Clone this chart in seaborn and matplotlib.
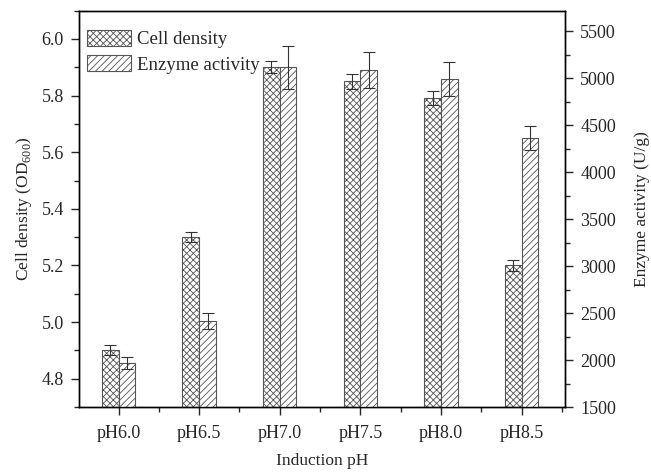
import pandas as pd
import seaborn as sns
import matplotlib.pyplot as plt
import matplotlib.patches as mpatches
from matplotlib.ticker import MultipleLocator, FixedLocator

# values
ph_labels = ["pH6.0", "pH6.5", "pH7.0", "pH7.5", "pH8.0", "pH8.5"]
cell_density = [4.90, 5.30, 5.90, 5.85, 5.79, 5.20]
cell_err = [0.018, 0.018, 0.022, 0.026, 0.025, 0.018]
enzyme_activity = [1970, 2420, 5115, 5085, 4990, 4365]
enzyme_err = [65, 85, 225, 190, 180, 130]

series = ["Cell density", "Enzyme activity"]
hatches = ["xxxxx", "/////"]

sns.set_style("ticks")
plt.rcParams["font.family"] = ["Liberation Serif", "DejaVu Serif"]
plt.rcParams["mathtext.fontset"] = "custom"
plt.rcParams["mathtext.rm"] = "Liberation Serif"
plt.rcParams["hatch.linewidth"] = 0.6
plt.rcParams["hatch.color"] = "#333333"

cell_df = pd.DataFrame({"pH": ph_labels, "value": cell_density, "series": series[0]})
enz_df = pd.DataFrame({"pH": ph_labels, "value": enzyme_activity, "series": series[1]})

fig = plt.figure(figsize=(6.51, 4.73), dpi=100)
ax1 = fig.add_axes([0.1215, 0.1395, 0.7465, 0.838])
ax2 = ax1.twinx()

edge = "#555555"
sns.barplot(data=cell_df, x="pH", y="value", hue="series", hue_order=series,
            palette=["white", "white"], width=0.415, dodge=True, legend=False,
            edgecolor=edge, linewidth=0.8, hatch=hatches[0], ax=ax1)
sns.barplot(data=enz_df, x="pH", y="value", hue="series", hue_order=series,
            palette=["white", "white"], width=0.415, dodge=True, legend=False,
            edgecolor=edge, linewidth=0.8, hatch=hatches[1], ax=ax2)

# error bars placed at the bar centres seaborn computed
for ax, vals, errs in [(ax1, cell_density, cell_err), (ax2, enzyme_activity, enzyme_err)]:
    bars = [p for p in ax.patches if p.get_height() > 0]
    xs = [b.get_x() + b.get_width() / 2 for b in bars]
    ax.errorbar(xs, vals, yerr=errs, fmt="none", ecolor="#333333",
                elinewidth=0.8, capsize=4, capthick=0.8)

ax1.set_xlim(-0.49, 5.54)
ax1.set_ylim(4.7, 6.1)
ax2.set_ylim(1500, 5720)

ax1.yaxis.set_major_locator(MultipleLocator(0.2))
ax1.yaxis.set_minor_locator(MultipleLocator(0.1))
ax2.yaxis.set_major_locator(MultipleLocator(500))
ax2.yaxis.set_minor_locator(MultipleLocator(250))
ax1.xaxis.set_minor_locator(FixedLocator([i + 0.5 for i in range(-1, len(ph_labels))]))

for ax in (ax1, ax2):
    for s in ax.spines.values():
        s.set_visible(True)
        s.set_linewidth(1.0)
        s.set_color("black")
    ax.tick_params(which="major", direction="out", length=6, width=1.0,
                   labelsize=13, pad=5)
    ax.tick_params(which="minor", direction="out", length=3.5, width=1.0)
ax1.tick_params(axis="x", which="major", pad=7)

ax1.yaxis.set_major_formatter(plt.FuncFormatter(lambda v, p: f"{v:.1f}"))

ax1.set_xlabel("Induction pH", fontsize=12.5, labelpad=8)
ax1.set_ylabel(r"Cell density (OD$_{\mathregular{600}}$)", fontsize=12.5, labelpad=5)
ax2.set_ylabel("Enzyme activity (U/g)", fontsize=12.5, labelpad=13)

handles = [mpatches.Patch(facecolor="white", edgecolor=edge, linewidth=0.8, hatch=h)
           for h in hatches]
ax1.legend(handles, series, loc="upper left", bbox_to_anchor=(0.0, 0.97),
           frameon=False, fontsize=13.5, handlelength=2.35, handleheight=0.9,
           handletextpad=0.35, labelspacing=0.38, borderaxespad=0.2, borderpad=0.2)

fig.savefig("out.png", dpi=100)
